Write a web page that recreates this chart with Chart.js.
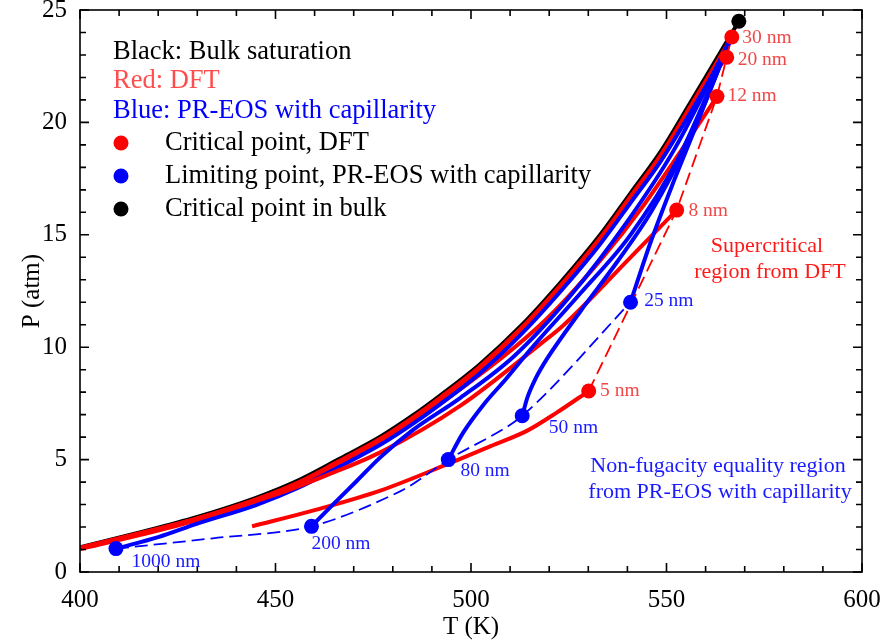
<!DOCTYPE html>
<html>
<head>
<meta charset="utf-8">
<script src="https://cdn.jsdelivr.net/npm/chart.js@4.4.1/dist/chart.umd.min.js"></script>
<style>
  body { margin: 0; background: #fff; }
</style>
</head>
<body>
<canvas id="myChart" width="883" height="644"></canvas>
<script>
// bulk saturation curve
var T_bulk = [400, 415, 430, 445, 456, 466, 477, 485, 492, 502, 513, 523, 533, 541, 548.5, 556, 562, 568.5];
var P_bulk = [1.1, 1.75, 2.45, 3.3, 4.09, 5.0, 6.04, 6.95, 7.84, 9.2, 10.99, 12.9, 14.99, 16.9, 18.7, 20.85, 22.6, 24.5];

// DFT curves
var T_dft30 = [400, 415, 430, 445, 456, 466, 477, 485, 492, 502, 513, 523, 533, 541, 548.5, 556, 562, 566.7];
var P_dft30 = [1.04, 1.68, 2.37, 3.22, 4.0, 4.91, 5.95, 6.86, 7.74, 9.1, 10.88, 12.78, 14.86, 16.76, 18.55, 20.68, 22.42, 23.8];
var T_dft20 = [400, 415, 430, 445, 456, 466, 477, 485, 492, 502, 513, 523, 533, 541, 548.5, 556, 562, 565.4];
var P_dft20 = [1.02, 1.63, 2.31, 3.15, 3.92, 4.82, 5.85, 6.75, 7.62, 8.97, 10.73, 12.6, 14.65, 16.52, 18.3, 20.4, 22.1, 22.9];
var T_dft12 = [400, 430, 456, 477, 497, 519, 533, 544.3, 555.3, 562.9];
var P_dft12 = [1.06, 2.38, 3.95, 5.75, 8.1, 11.2, 13.85, 16.35, 19.15, 21.15];
var T_dft8 = [400, 430, 451, 463, 476.8, 497.3, 517.8, 523.8, 540.8, 552.6];
var P_dft8 = [1.08, 2.38, 3.5, 4.3, 5.32, 7.4, 10.15, 11.0, 14.0, 16.1];
var T_dft5 = [444, 460, 476.8, 494.7, 505, 514.4, 522, 530.1];
var P_dft5 = [2.03, 2.75, 3.62, 4.85, 5.6, 6.29, 7.1, 8.05];

// PR-EOS with capillarity curves
var T_pr1000 = [409.2, 420, 430, 445, 456, 466, 477, 485, 492, 502, 513, 523, 533, 541, 548.5, 556, 562, 566.4];
var P_pr1000 = [1.04, 1.55, 2.15, 2.98, 3.76, 4.65, 5.68, 6.58, 7.45, 8.8, 10.6, 12.5, 14.58, 16.47, 18.27, 20.4, 22.2, 23.7];
var T_pr200 = [459.2, 465, 470.9, 476.8, 485, 497.3, 511, 525, 540, 552, 566.4];
var P_pr200 = [2.03, 3.05, 4.07, 5.1, 6.3, 7.75, 9.6, 12.2, 15.6, 18.8, 23.7];
var T_pr80 = [494.2, 498, 503, 509, 515.2, 528, 540.8, 553, 566.4];
var P_pr80 = [5.0, 6.2, 7.4, 8.6, 9.9, 12.4, 15.0, 18.4, 23.7];
var T_pr50 = [513.1, 514.5, 516.5, 519.5, 528, 537.4, 546, 556, 566.4];
var P_pr50 = [6.95, 7.8, 8.6, 9.5, 11.6, 13.8, 16.0, 19.3, 23.7];
var T_pr25 = [540.8, 546, 551.9, 557, 562, 566.4];
var P_pr25 = [12.0, 14.7, 17.4, 19.6, 21.8, 23.7];

// critical / limiting points
var pore_dft = ["30 nm", "20 nm", "12 nm", "8 nm", "5 nm"];
var T_crit_dft = [566.7, 565.4, 562.9, 552.6, 530.1];
var P_crit_dft = [23.8, 22.9, 21.15, 16.1, 8.05];
var pore_pr = ["25 nm", "50 nm", "80 nm", "200 nm", "1000 nm"];
var T_lim_pr = [540.8, 513.1, 494.2, 459.2, 409.2];
var P_lim_pr = [12.0, 6.95, 5.0, 2.03, 1.04];
var T_crit_bulk = [568.5];
var P_crit_bulk = [24.5];

// dashed connectors
var T_lim_dash = [409.2, 434, 459.2, 482, 494.2, 513.1, 540.8];
var P_lim_dash = [1.04, 1.5, 2.03, 3.6, 5.0, 6.95, 12.0];
var T_crit_dash = [530.1, 552.6, 562.9, 565.4, 566.7];
var P_crit_dash = [8.05, 16.1, 21.15, 22.9, 23.8];

// label anchors (data coords)
var lab_dft_T = [569.4, 568.2, 565.6, 555.6, 533];
var lab_dft_P = [23.74, 22.8, 21.19, 16.05, 8.06];
var lab_pr_T = [544.3, 519.9, 497.3, 459.2, 413.2];
var lab_pr_P = [12.05, 6.43, 4.48, 1.26, 0.47];

var RED = '#ff0000', BLUE = '#0000ff';
var SERIF = '"Liberation Serif", "Times New Roman", serif';

function pts(T, P) {
  return T.map(function (t, i) { return { x: t, y: P[i] }; });
}

function curve(T, P, color) {
  return {
    data: pts(T, P), showLine: true, borderColor: color, borderWidth: 4,
    pointRadius: 0, cubicInterpolationMode: 'monotone', fill: false
  };
}

function dashed(T, P, color, tension) {
  return {
    data: pts(T, P), showLine: true, borderColor: color, borderWidth: 1.8,
    borderDash: [13, 6], pointRadius: 0, tension: tension, fill: false
  };
}

function dots(T, P, color) {
  return {
    data: pts(T, P), showLine: false, pointRadius: 7.5, pointHoverRadius: 7.5,
    pointBackgroundColor: color, pointBorderColor: color, pointBorderWidth: 0
  };
}

var decor = {
  id: 'decor',
  beforeDraw: function (chart) {
    var ctx = chart.ctx;
    ctx.save();
    ctx.fillStyle = '#fff';
    ctx.fillRect(0, 0, chart.width, chart.height);
    ctx.restore();
  },
  afterDatasetsDraw: function (chart) {
    var ctx = chart.ctx, a = chart.chartArea;
    var xs = chart.scales.x, ys = chart.scales.y;
    ctx.save();
    ctx.strokeStyle = '#000';
    ctx.lineWidth = 1.6;
    ctx.strokeRect(a.left, a.top, a.right - a.left, a.bottom - a.top);
    ctx.beginPath();
    for (var t = 400; t <= 600; t += 10) {
      var px = xs.getPixelForValue(t);
      var len = (t % 50 === 0) ? 9 : 6;
      ctx.moveTo(px, a.bottom); ctx.lineTo(px, a.bottom - len);
      ctx.moveTo(px, a.top); ctx.lineTo(px, a.top + len);
    }
    for (var p = 0; p <= 25; p += 1) {
      var py = ys.getPixelForValue(p);
      var l2 = (p % 5 === 0) ? 9 : 6;
      ctx.moveTo(a.left, py); ctx.lineTo(a.left + l2, py);
      ctx.moveTo(a.right, py); ctx.lineTo(a.right - l2, py);
    }
    ctx.stroke();

    // pore size labels
    ctx.textBaseline = 'middle';
    ctx.textAlign = 'left';
    ctx.font = '19.5px ' + SERIF;
    ctx.fillStyle = '#f04848';
    pore_dft.forEach(function (s, i) {
      ctx.fillText(s, xs.getPixelForValue(lab_dft_T[i]), ys.getPixelForValue(lab_dft_P[i]));
    });
    ctx.fillStyle = '#1a1aff';
    pore_pr.forEach(function (s, i) {
      ctx.fillText(s, xs.getPixelForValue(lab_pr_T[i]), ys.getPixelForValue(lab_pr_P[i]));
    });

    // region notes
    ctx.textAlign = 'center';
    ctx.font = '22px ' + SERIF;
    ctx.fillStyle = '#ff1a1a';
    ctx.fillText('Supercritical', 767, 246);
    ctx.fillText('region from DFT', 770, 272);
    ctx.fillStyle = '#1a1aff';
    ctx.fillText('Non-fugacity equality region', 718, 466);
    ctx.fillText('from PR-EOS with capillarity', 720, 492);

    // legend block
    ctx.textAlign = 'left';
    ctx.font = '26.5px ' + SERIF;
    ctx.fillStyle = '#000';
    ctx.fillText('Black: Bulk saturation', 113, 52);
    ctx.fillStyle = '#ff4d4d';
    ctx.fillText('Red: DFT', 113, 81);
    ctx.fillStyle = '#0000ff';
    ctx.fillText('Blue: PR-EOS with capillarity', 113, 111);
    var rows = [[RED, 'Critical point, DFT', 143], [BLUE, 'Limiting point, PR-EOS with capillarity', 176], ['#000', 'Critical point in bulk', 209]];
    rows.forEach(function (r) {
      ctx.fillStyle = r[0];
      ctx.beginPath();
      ctx.arc(121, r[2], 7.5, 0, Math.PI * 2);
      ctx.fill();
      ctx.fillStyle = '#000';
      ctx.fillText(r[1], 165, r[2]);
    });
    ctx.restore();
  }
};

function renderChart() {
  var ctx = document.getElementById('myChart').getContext('2d');
  var datasets = [
    dots(T_crit_bulk, P_crit_bulk, '#000'),
    dots(T_lim_pr, P_lim_pr, BLUE),
    dots(T_crit_dft, P_crit_dft, RED),
    dashed(T_lim_dash, P_lim_dash, BLUE, 0.3),
    dashed(T_crit_dash, P_crit_dash, RED, 0),
    curve(T_pr25, P_pr25, BLUE),
    curve(T_pr50, P_pr50, BLUE),
    curve(T_pr80, P_pr80, BLUE),
    curve(T_pr200, P_pr200, BLUE),
    curve(T_dft5, P_dft5, RED),
    curve(T_dft8, P_dft8, RED),
    curve(T_pr1000, P_pr1000, BLUE),
    curve(T_dft12, P_dft12, RED),
    curve(T_dft20, P_dft20, RED),
    curve(T_dft30, P_dft30, RED),
    curve(T_bulk, P_bulk, '#000')
  ];
  new Chart(ctx, {
    type: 'scatter',
    data: { datasets: datasets },
    plugins: [decor],
    options: {
      responsive: false,
      animation: false,
      devicePixelRatio: 1,
      layout: { padding: { left: 0, right: 21, top: 10, bottom: 0 } },
      plugins: { legend: { display: false }, tooltip: { enabled: false } },
      scales: {
        x: {
          type: 'linear', min: 400, max: 600,
          grid: { display: false, drawTicks: false },
          border: { display: false },
          ticks: { stepSize: 50, color: '#000', padding: 13, font: { family: SERIF, size: 25 } },
          title: { display: true, text: 'T (K)', color: '#000', padding: { top: 0, bottom: 2 }, font: { family: SERIF, size: 25 } },
          afterFit: function (s) { s.height = 72; s.paddingLeft = 0; s.paddingRight = 0; }
        },
        y: {
          type: 'linear', min: 0, max: 25,
          grid: { display: false, drawTicks: false },
          border: { display: false },
          ticks: { stepSize: 5, color: '#000', padding: 13, font: { family: SERIF, size: 25 } },
          title: { display: true, text: 'P (atm)', color: '#000', padding: { top: 17, bottom: 0 }, font: { family: SERIF, size: 25 } },
          afterFit: function (s) { s.width = 80; s.paddingTop = 0; s.paddingBottom = 0; }
        }
      }
    }
  });
}

window.onload = function () {
  renderChart();
};
</script>
</body>
</html>
